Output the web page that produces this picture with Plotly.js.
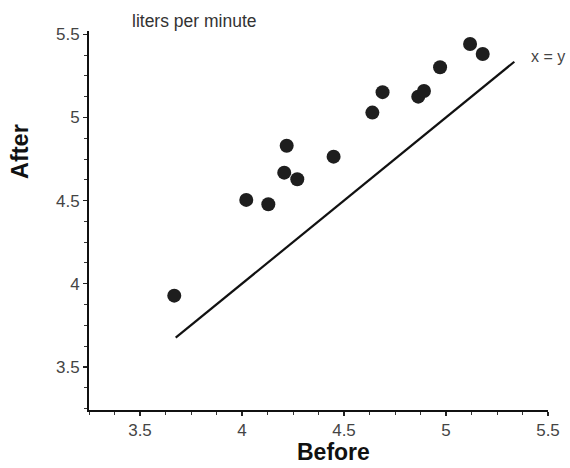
<!DOCTYPE html>
<html>
<head>
<meta charset="utf-8">
<script src="https://cdn.plot.ly/plotly-3.0.1.min.js"></script>
<style>html,body{margin:0;padding:0;background:#fff;}#chart{width:570px;height:468px;}</style>
</head>
<body>
<div id="chart"></div>
<script>
var before = [3.668, 4.021, 4.129, 4.207, 4.219, 4.271, 4.449, 4.639, 4.689, 4.864, 4.892, 4.971, 5.118, 5.180];
var after  = [3.928, 4.504, 4.478, 4.668, 4.830, 4.628, 4.764, 5.029, 5.152, 5.125, 5.159, 5.302, 5.442, 5.382];
var identityLine = [3.675, 5.335];
var xTicks = [3.5, 4, 4.5, 5, 5.5];
var yTicks = [3.5, 4, 4.5, 5, 5.5];
var xTickLabels = ["3.5", "4", "4.5", "5", "5.5"];
var yTickLabels = ["3.5", "4", "4.5", "5", "5.5"];

var font = "Liberation Sans, Arial, Helvetica, sans-serif";

var traces = [
  {
    x: identityLine, y: identityLine, mode: "lines", type: "scatter",
    line: {color: "#111", width: 2.2}, hoverinfo: "skip", showlegend: false
  },
  {
    x: before, y: after, mode: "markers", type: "scatter",
    marker: {color: "#1e1e1e", size: 14, line: {width: 0}}, showlegend: false
  }
];

var axisCommon = {
  showgrid: false, zeroline: false, showline: true,
  linecolor: "#111", linewidth: 2,
  ticks: "outside", ticklen: 4, tickwidth: 1.5, tickcolor: "#222",
  tickfont: {family: font, size: 17, color: "#444"},
  tickmode: "array",
  minor: {dtick: 0.125, ticks: "outside", ticklen: 3, tickwidth: 1, tickcolor: "#333", showgrid: false}
};

var layout = {
  width: 570, height: 468,
  margin: {l: 89, r: 22, t: 31, b: 58},
  paper_bgcolor: "#fff", plot_bgcolor: "#fff",
  xaxis: Object.assign({}, axisCommon, {range: [3.25, 5.5], tickvals: xTicks, ticktext: xTickLabels}),
  yaxis: Object.assign({}, axisCommon, {range: [3.24, 5.52], tickvals: yTicks, ticktext: yTickLabels}),
  annotations: [
    {text: "liters per minute", xref: "paper", yref: "paper", x: (194 - 89) / 459, y: (410 - 21) / 379,
     xanchor: "center", yanchor: "middle", showarrow: false, font: {family: font, size: 17.5, color: "#333"}},
    {text: "x = y", xref: "paper", yref: "paper", x: (529 - 89) / 459, y: (410 - 56) / 379,
     xanchor: "left", yanchor: "middle", showarrow: false, font: {family: font, size: 16, color: "#444"}},
    {text: "<b>After</b>", xref: "paper", yref: "paper", x: (20 - 89) / 459, y: (410 - 152) / 379,
     xanchor: "center", yanchor: "middle", textangle: -90, showarrow: false, font: {family: font, size: 23.5, color: "#111"}},
    {text: "<b>Before</b>", xref: "paper", yref: "paper", x: (333 - 89) / 459, y: (410 - 467) / 379,
     xanchor: "center", yanchor: "bottom", showarrow: false, font: {family: font, size: 23, color: "#111"}}
  ]
};

Plotly.newPlot("chart", traces, layout, {displayModeBar: false, staticPlot: true});
</script>
</body>
</html>
